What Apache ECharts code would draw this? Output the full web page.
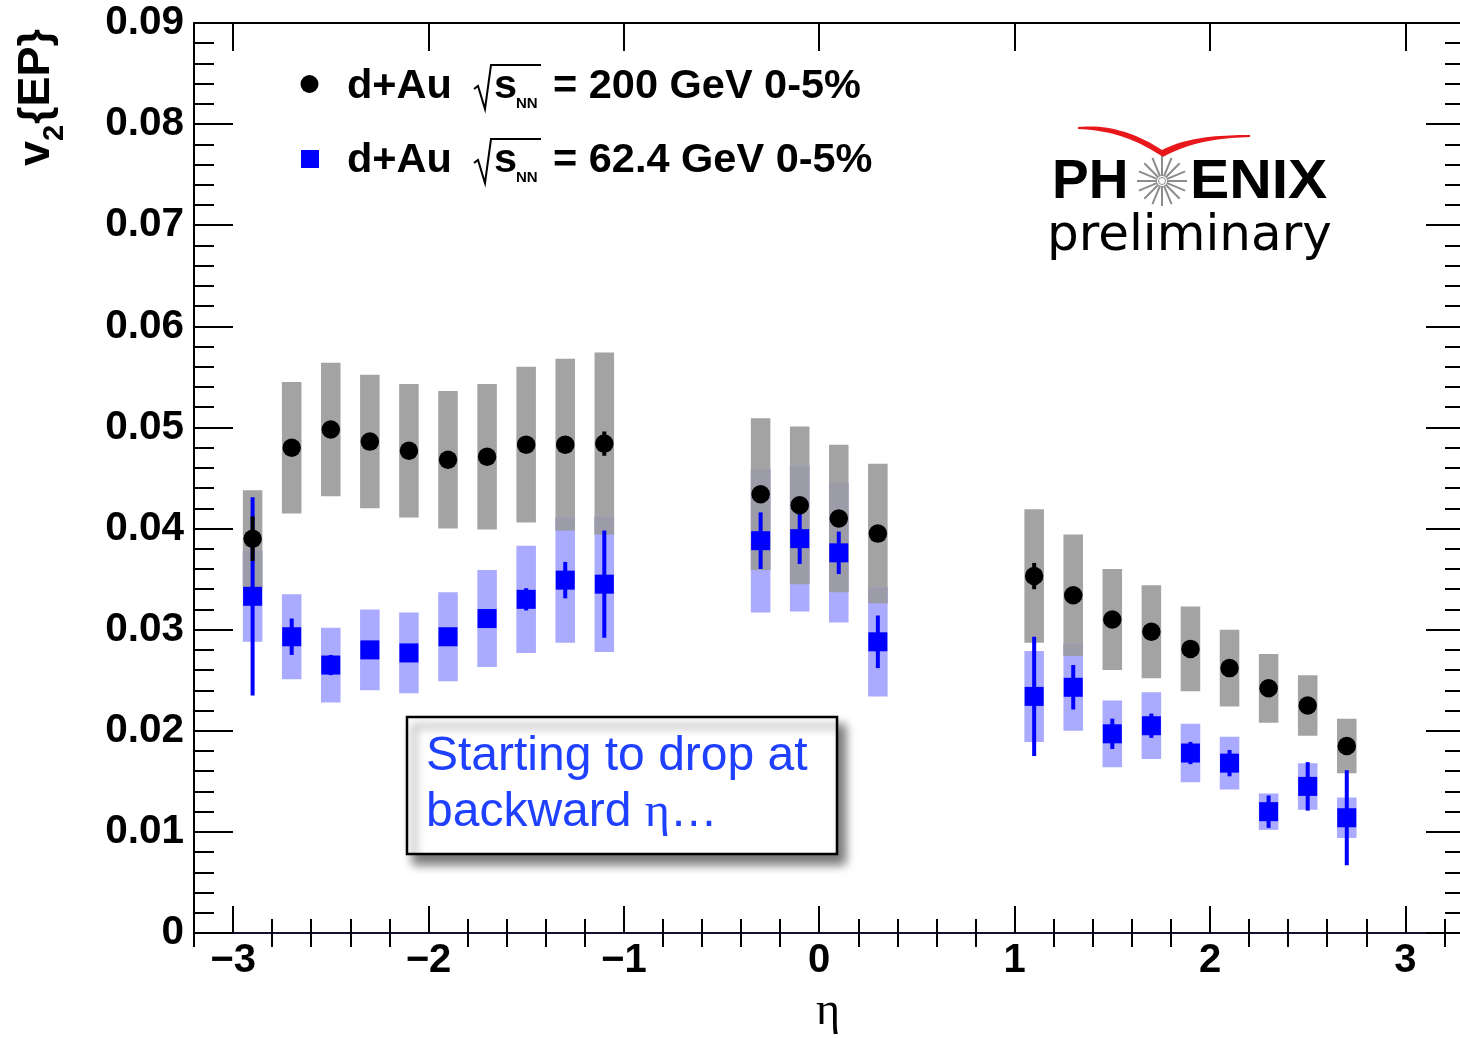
<!DOCTYPE html>
<html>
<head>
<meta charset="utf-8">
<script src="https://cdn.jsdelivr.net/npm/echarts@6/dist/echarts.min.js"></script>
<style>
  html, body { margin: 0; padding: 0; background: #ffffff; }
  #chart { width: 1460px; height: 1038px; }
</style>
</head>
<body>
<div id="chart"></div>
<script>
// pseudorapidity bins
const eta = [-2.9, -2.7, -2.5, -2.3, -2.1, -1.9, -1.7, -1.5, -1.3, -1.1,
             -0.3, -0.1, 0.1, 0.3,
             1.1, 1.3, 1.5, 1.7, 1.9, 2.1, 2.3, 2.5, 2.7];

// d+Au 200 GeV, 0-5%
const v2_200   = [0.0390, 0.0480, 0.0498, 0.0486, 0.0477, 0.0468, 0.0471, 0.0483, 0.0483, 0.0484,
                  0.0434, 0.0423, 0.0410, 0.0395,
                  0.0353, 0.0334, 0.0310, 0.0298, 0.0281, 0.0262, 0.0242, 0.0225, 0.0185];
const stat_200 = [0.0022, 0.0006, 0.0006, 0.0006, 0.0006, 0.0006, 0.0006, 0.0006, 0.0006, 0.0012,
                  0.0006, 0.0006, 0.0006, 0.0006,
                  0.0013, 0.0006, 0.0006, 0.0006, 0.0006, 0.0006, 0.0006, 0.0006, 0.0006];
const sys_200  = [0.0048, 0.0065, 0.0066, 0.0066, 0.0066, 0.0068, 0.0072, 0.0077, 0.0085, 0.0090,
                  0.0075, 0.0078, 0.0073, 0.0069,
                  0.0066, 0.0060, 0.0050, 0.0046, 0.0042, 0.0038, 0.0034, 0.0030, 0.0027];

// d+Au 62.4 GeV, 0-5%
const v2_62    = [0.0333, 0.0293, 0.0265, 0.0280, 0.0277, 0.0293, 0.0311, 0.0330, 0.0349, 0.0345,
                  0.0388, 0.0390, 0.0376, 0.0288,
                  0.0234, 0.0243, 0.0197, 0.0205, 0.0178, 0.0168, 0.0120, 0.0145, 0.0114];
const stat_62  = [0.0098, 0.0018, 0.0010, 0.0006, 0.0006, 0.0006, 0.0006, 0.0011, 0.0018, 0.0053,
                  0.0028, 0.0025, 0.0021, 0.0026,
                  0.0059, 0.0022, 0.0015, 0.0012, 0.0011, 0.0013, 0.0016, 0.0024, 0.0047];
const sys_62   = [0.0045, 0.0042, 0.0037, 0.0040, 0.0040, 0.0044, 0.0048, 0.0053, 0.0062, 0.0067,
                  0.0071, 0.0072, 0.0069, 0.0054,
                  0.0045, 0.0043, 0.0033, 0.0033, 0.0029, 0.0026, 0.0018, 0.0023, 0.0020];

// axis ticks
const xMajorTicks = [-3, -2, -1, 0, 1, 2, 3];
const xMinorTicks = [-3.2, -2.8, -2.6, -2.4, -2.2, -1.8, -1.6, -1.4, -1.2, -0.8, -0.6, -0.4, -0.2,
                     0.2, 0.4, 0.6, 0.8, 1.2, 1.4, 1.6, 1.8, 2.2, 2.4, 2.6, 2.8, 3.2];

const BOX_HALF = 0.05;       // half width of systematic boxes, in eta
const C_GRAY = '#a3a3a3';
const C_LBLUE = '#aaaaff';
const C_MIX = '#9c9ca8';
const C_BLUE = '#0000ff';
const C_NOTE = '#1f40ff';
const FONT = '"Liberation Sans", Arial, Helvetica, sans-serif';

const rows200 = eta.map((e, i) => [e, v2_200[i], sys_200[i], stat_200[i]]);
const rows62  = eta.map((e, i) => [e, v2_62[i], sys_62[i], stat_62[i], v2_200[i], sys_200[i]]);

function rectFrom(api, x0, x1, yHi, yLo, fill) {
  const a = api.coord([x0, yHi]);
  const b = api.coord([x1, yLo]);
  return { type: 'rect', shape: { x: a[0], y: a[1], width: b[0] - a[0], height: b[1] - a[1] },
           style: { fill: fill } };
}

function grayBox(params, api) {
  const x = api.value(0), v = api.value(1), s = api.value(2);
  return rectFrom(api, x - BOX_HALF, x + BOX_HALF, v + s, v - s, C_GRAY);
}

// 62.4 GeV box; where it overlaps the 200 GeV box the two colours mix
function blueBox(params, api) {
  const x = api.value(0), v = api.value(1), s = api.value(2);
  const vo = api.value(4), so = api.value(5);
  const children = [rectFrom(api, x - BOX_HALF, x + BOX_HALF, v + s, v - s, C_LBLUE)];
  const hi = Math.min(v + s, vo + so), lo = Math.max(v - s, vo - so);
  if (hi > lo) children.push(rectFrom(api, x - BOX_HALF, x + BOX_HALF, hi, lo, C_MIX));
  return { type: 'group', children: children };
}

function statBar(color) {
  return function (params, api) {
    const x = api.value(0), v = api.value(1), e = api.value(3);
    const a = api.coord([x, v + e]);
    const b = api.coord([x, v - e]);
    return { type: 'rect', shape: { x: a[0] - 2, y: a[1], width: 4, height: b[1] - a[1] },
             style: { fill: color } };
  };
}

const chart = echarts.init(document.getElementById('chart'), null, { renderer: 'canvas' });

const xBase = { type: 'value', min: -3.2, max: 3.3, splitLine: { show: false } };
const yBase = { type: 'value', min: 0, max: 0.09, interval: 0.01, splitLine: { show: false } };
const tickStyle = { color: '#000', width: 2 };

// legend line with a square-root symbol
function legendLine(dy, label) {
  return [
    { type: 'text', style: { text: 'd+Au', x: 347, y: 87 + dy, font: 'bold 41.5px ' + FONT, fill: '#000',
        textVerticalAlign: 'middle', verticalAlign: 'middle' } },
    { type: 'polyline', shape: { points: [[474, 89 + dy], [478, 86 + dy], [485, 109 + dy], [491, 65 + dy], [541, 65 + dy]] },
      style: { stroke: '#000', lineWidth: 2, fill: null } },
    { type: 'text', style: { text: 's', x: 494, y: 87 + dy, font: 'bold 41.5px ' + FONT, fill: '#000',
        textVerticalAlign: 'middle', verticalAlign: 'middle' } },
    { type: 'text', style: { text: 'NN', x: 516, y: 104 + dy, font: 'bold 15px ' + FONT, fill: '#000',
        textVerticalAlign: 'middle', verticalAlign: 'middle' } },
    { type: 'text', style: { text: label, x: 553, y: 87 + dy, font: 'bold 41.5px ' + FONT, fill: '#000',
        textVerticalAlign: 'middle', verticalAlign: 'middle' } }
  ];
}

// red swoosh of the PHENIX logo, traced with cubic curves
function cubic(p0, p1, p2, p3, n) {
  const pts = [];
  for (let i = 0; i <= n; i++) {
    const t = i / n, u = 1 - t;
    pts.push([u * u * u * p0[0] + 3 * u * u * t * p1[0] + 3 * u * t * t * p2[0] + t * t * t * p3[0],
              u * u * u * p0[1] + 3 * u * u * t * p1[1] + 3 * u * t * t * p2[1] + t * t * t * p3[1]]);
  }
  return pts;
}
const swoosh = [].concat(
  cubic([1078, 127], [1105, 124], [1135, 132], [1162, 150], 20),
  cubic([1162, 150], [1185, 138], [1215, 135], [1250, 135], 20),
  cubic([1250, 137], [1218, 138], [1190, 142], [1163, 157], 20),
  cubic([1163, 157], [1135, 138], [1108, 130], [1078, 129], 20)
);

// PHENIX starburst
const starCx = 1162, starCy = 181;
const starRays = [];
for (let k = 0; k < 16; k++) {
  const a = k * Math.PI / 8;
  starRays.push({ type: 'line',
    shape: { x1: starCx + 5 * Math.cos(a), y1: starCy + 5 * Math.sin(a),
             x2: starCx + 25 * Math.cos(a), y2: starCy + 25 * Math.sin(a) },
    style: { stroke: '#8c8c8c', lineWidth: 2 } });
}

const option = {
  animation: false,
  backgroundColor: '#ffffff',
  // the frame runs a few pixels past the right edge of the canvas
  grid: { left: 194, top: 23, width: 1270, height: 910, containLabel: false, outerBoundsMode: 'none' },
  xAxis: [
    Object.assign({}, xBase, {
      position: 'bottom',
      axisLine: { show: true, onZero: false, lineStyle: { color: '#12122e', width: 2 } },
      axisTick: { show: true, inside: true, length: 27, customValues: xMajorTicks, lineStyle: tickStyle },
      axisLabel: { show: true, customValues: xMajorTicks, margin: 8, color: '#000',
        fontFamily: FONT, fontWeight: 'bold', fontSize: 40,
        formatter: v => (v < 0 ? '\u2212' + Math.abs(v) : String(v)) }
    }),
    Object.assign({}, xBase, {
      position: 'bottom',
      axisLine: { show: false },
      axisTick: { show: true, inside: true, length: 14, customValues: xMinorTicks, lineStyle: tickStyle },
      axisLabel: { show: false }
    }),
    Object.assign({}, xBase, {
      position: 'top',
      axisLine: { show: true, onZero: false, lineStyle: { color: '#000', width: 2 } },
      axisTick: { show: true, inside: true, length: 28, customValues: xMajorTicks, lineStyle: tickStyle },
      axisLabel: { show: false }
    }),
    Object.assign({}, xBase, {
      position: 'top',
      axisLine: { show: false },
      axisTick: { show: true, inside: true, length: 14, customValues: xMinorTicks, lineStyle: tickStyle },
      axisLabel: { show: false }
    })
  ],
  yAxis: [
    Object.assign({}, yBase, {
      position: 'left',
      axisLine: { show: true, onZero: false, lineStyle: { color: '#000', width: 2 } },
      axisTick: { show: true, inside: true, length: 39, lineStyle: tickStyle },
      minorTick: { show: true, splitNumber: 5, length: 20, lineStyle: tickStyle },
      axisLabel: { show: true, margin: 10, color: '#000', fontFamily: FONT, fontWeight: 'bold', fontSize: 40.5 }
    }),
    Object.assign({}, yBase, {
      position: 'right',
      axisLine: { show: true, onZero: false, lineStyle: { color: '#000', width: 2 } },
      axisTick: { show: true, inside: true, length: 38, lineStyle: tickStyle },
      minorTick: { show: true, splitNumber: 5, length: 19, lineStyle: tickStyle },
      axisLabel: { show: false }
    })
  ],
  series: [
    { name: 'sys200', type: 'custom', z: 1, renderItem: grayBox, data: rows200, encode: { x: 0, y: 1 } },
    { name: 'sys62', type: 'custom', z: 2, renderItem: blueBox, data: rows62, encode: { x: 0, y: 1 } },
    { name: 'stat62', type: 'custom', z: 3, renderItem: statBar(C_BLUE), data: rows62, encode: { x: 0, y: 1 } },
    { name: 'd+Au 62.4 GeV', type: 'scatter', z: 4, symbol: 'rect', symbolSize: 19,
      itemStyle: { color: C_BLUE, opacity: 1 }, data: rows62.map(r => [r[0], r[1]]) },
    { name: 'stat200', type: 'custom', z: 5, renderItem: statBar('#000'), data: rows200, encode: { x: 0, y: 1 } },
    { name: 'd+Au 200 GeV', type: 'scatter', z: 6, symbol: 'circle', symbolSize: 18.5,
      itemStyle: { color: '#000', opacity: 1 }, data: rows200.map(r => [r[0], r[1]]) }
  ],
  graphic: [
    // y-axis title  v2{EP}
    { type: 'group', x: 59, y: 166, rotation: Math.PI / 2, children: [
      { type: 'text', style: { text: 'v', x: 0, y: 0, font: 'bold 45px ' + FONT, fill: '#000',
          textVerticalAlign: 'bottom', verticalAlign: 'bottom' } },
      { type: 'text', style: { text: '2', x: 25, y: 10, font: 'bold 29px ' + FONT, fill: '#000',
          textVerticalAlign: 'bottom', verticalAlign: 'bottom' } },
      { type: 'text', style: { text: '{EP}', x: 42, y: 0, font: 'bold 45px ' + FONT, fill: '#000',
          textVerticalAlign: 'bottom', verticalAlign: 'bottom' } }
    ] },
    // x-axis title
    { type: 'text', style: { text: '\u03b7', x: 828, y: 1012, font: '46px "Liberation Serif", "Times New Roman", serif',
        fill: '#000', textAlign: 'center', align: 'center', textVerticalAlign: 'middle', verticalAlign: 'middle' } },
    // legend
    { type: 'circle', shape: { cx: 309.5, cy: 84, r: 9 }, style: { fill: '#000' } },
    { type: 'rect', shape: { x: 301, y: 150, width: 18, height: 18 }, style: { fill: C_BLUE } },
    ...legendLine(0, '= 200 GeV 0-5%'),
    ...legendLine(74, '= 62.4 GeV 0-5%'),
    // PHENIX preliminary logo
    { type: 'polygon', shape: { points: swoosh }, style: { fill: '#e8171b' } },
    { type: 'text', x: 1052, y: 183, style: { text: 'PH', x: 0, y: 0,
        font: 'bold 55px ' + FONT, fill: '#000',
        textVerticalAlign: 'middle', verticalAlign: 'middle' } },
    { type: 'text', x: 1190, y: 183, scaleX: 1.07, style: { text: 'ENIX', x: 0, y: 0,
        font: 'bold 55px ' + FONT, fill: '#000',
        textVerticalAlign: 'middle', verticalAlign: 'middle' } },
    ...starRays,
    { type: 'circle', shape: { cx: starCx, cy: starCy, r: 3.5 }, style: { fill: '#fff', stroke: '#8c8c8c', lineWidth: 1 } },
    { type: 'text', style: { text: 'preliminary', x: 1047, y: 237, font: '50px "DejaVu Sans", sans-serif', fill: '#000',
        textVerticalAlign: 'middle', verticalAlign: 'middle' } },
    // annotation box
    { type: 'rect', shape: { x: 407, y: 717, width: 430, height: 137 },
      style: { fill: '#fff', stroke: '#000', lineWidth: 2.5,
               shadowBlur: 10, shadowOffsetX: 7, shadowOffsetY: 9, shadowColor: 'rgba(0,0,0,0.55)' } },
    { type: 'text', style: { text: 'Starting to drop at', x: 426, y: 757, font: '48px ' + FONT, fill: C_NOTE,
        textVerticalAlign: 'middle', verticalAlign: 'middle' } },
    { type: 'text', style: { text: '{a|backward }{e|\u03b7}{a|\u2026}', x: 426, y: 813, fill: C_NOTE,
        textVerticalAlign: 'middle', verticalAlign: 'middle',
        rich: { a: { fontFamily: FONT, fontSize: 48, fill: C_NOTE, color: C_NOTE },
                e: { fontFamily: '"Liberation Serif", serif', fontSize: 48, fill: C_NOTE, color: C_NOTE } } } }
  ]
};

chart.setOption(option);
</script>
</body>
</html>
